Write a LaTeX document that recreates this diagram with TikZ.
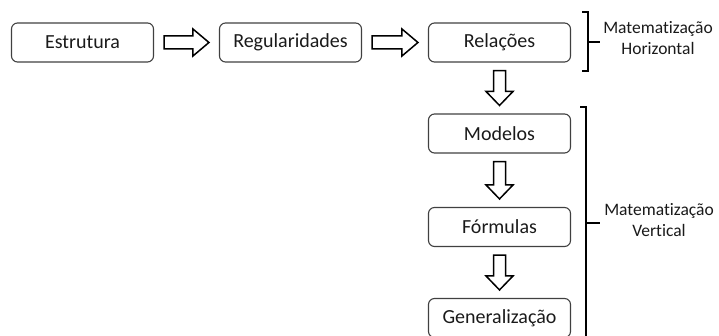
\documentclass[tikz,border=0pt]{standalone}
\usepackage{fontspec}
\setmainfont{Carlito}[Ligatures=NoCommon]
\usetikzlibrary{calc}
\definecolor{boxline}{HTML}{404040}
\definecolor{txt}{HTML}{1A1A1A}
\begin{document}
\begin{tikzpicture}[x=1pt,y=-1pt,
  stagebox/.style={draw=boxline, line width=1.1pt, rounded corners=6pt, minimum width=142pt, minimum height=39pt, inner sep=0pt, text=txt, font=\fontsize{20}{24}\selectfont},
  blk/.style={draw=black, line width=1.5pt, fill=white, line join=miter},
  brack/.style={draw=black, line width=1.6pt},
  lbl/.style={align=center, text=txt, font=\fontsize{17.5}{21}\selectfont, inner sep=0pt}
]
\useasboundingbox (0,0) rectangle (719,336);
\node[stagebox] (estr) at (82.5,42.5) {Estrutura};
\node[stagebox] (regu) at (290.5,42.5) {Regularidades};
\node[stagebox] (rela) at (499.5,42.5) {Relações};
\node[stagebox] (mode) at (499.5,133.5) {Modelos};
\node[stagebox] (form) at (499.5,227) {Fórmulas};
\node[stagebox] (gene) at (499.5,318) {Generalização};
% horizontal block arrows
\foreach \a/\b in {estr/regu, regu/rela}{
  \draw[blk] ($(\a.east)+(10,6.5)$) -- ($(\b.west)+(-26,6.5)$) -- ($(\b.west)+(-26,13.5)$)
    -- ($(\b.west)+(-10,0)$) -- ($(\b.west)+(-26,-13.5)$) -- ($(\b.west)+(-26,-6.5)$)
    -- ($(\a.east)+(10,-6.5)$) -- cycle;
}
% vertical block arrows
\foreach \a/\b in {rela/mode, mode/form, form/gene}{
  \draw[blk] ($(\a.south)+(-6,8)$) -- ($(\b.north)+(-6,-22)$) -- ($(\b.north)+(-13.5,-22)$)
    -- ($(\b.north)+(0,-8)$) -- ($(\b.north)+(13.5,-22)$) -- ($(\b.north)+(6,-22)$)
    -- ($(\a.south)+(6,8)$) -- cycle;
}
% brackets
\coordinate (hb1) at (588,12);
\coordinate (hb2) at (588,71);
\coordinate (hbm) at (588,42);
\draw[brack] ($(hb1)+(-6,0)$) -- (hb1) -- (hb2) -- ($(hb2)+(-6,0)$);
\draw[brack] (hbm) -- ++(12,0);
\coordinate (vb1) at (586,107);
\coordinate (vb2) at (586,340);
\coordinate (vbm) at (586,223);
\draw[brack] ($(vb1)+(-6,0)$) -- (vb1) -- (vb2);
\draw[brack] (vbm) -- ++(14,0);
\node[lbl] (hlab) at (658,38.5) {Matematização\\Horizontal};
\node[lbl] (vlab) at (659,220.5) {Matematização\\Vertical};
\end{tikzpicture}
\end{document}
